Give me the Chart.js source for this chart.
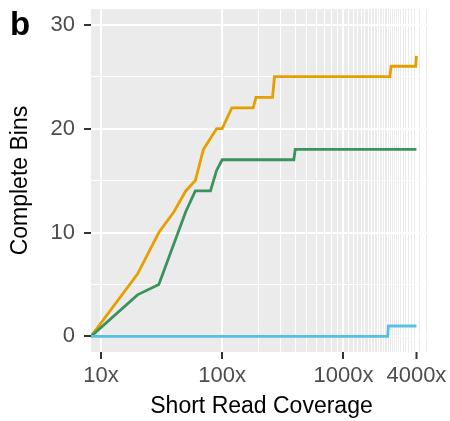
<!DOCTYPE html>
<html>
<head>
<meta charset="utf-8">
<script src="https://cdn.jsdelivr.net/npm/chart.js@4/dist/chart.umd.min.js"></script>
<style>
  html, body { margin: 0; padding: 0; background: #fff; }
  #wrap { width: 450px; height: 421px; }
</style>
</head>
<body>
<div id="wrap"><canvas id="myChart" width="450" height="421"></canvas></div>
<script>
// coverage 0 has no place on a log axis, so it sits on the left edge
const xMin = 8.27
const xMax = 5380

// orange series
const orangeX = [xMin, 20, 30, 40, 50, 60, 70, 90, 100, 120, 180, 190, 260, 270, 2420, 2470, 3950, 4000]
const orangeY = [0, 6, 10, 12, 14, 15, 18, 20, 20, 22, 22, 23, 23, 25, 25, 26, 26, 27]

// green series
const greenX = [xMin, 20, 30, 50, 60, 80, 90, 100, 390, 400, 4000]
const greenY = [0, 4, 5, 12, 14, 14, 16, 17, 17, 18, 18]

// blue series
const blueX = [xMin, 2320, 2350, 4000]
const blueY = [0, 0, 1, 1]

const xLabelTicks = [10, 100, 1000, 4000]
const xMajorTicks = [10, 100, 1000]
const yTicks = [0, 5, 10, 15, 20, 25, 30]
const yLabelTicks = [0, 10, 20, 30]

// minor vertical lines every 100 from 200 upward
let xTicks = [10, 100]
for (let v = 200; v < xMax; v += 100) xTicks.push(v)

const toPoints = (xs, ys) => xs.map((x, i) => ({x: x, y: ys[i]}))

const font = 'Liberation Sans, Arial, sans-serif'

const panelBg = {
  id: 'panelBg',
  beforeDraw(chart) {
    const {ctx, chartArea: a} = chart
    ctx.save()
    ctx.fillStyle = '#EBEBEB'
    ctx.fillRect(a.left, a.top, a.right - a.left, a.bottom - a.top)
    ctx.restore()
  },
  afterDraw(chart) {
    const ctx = chart.ctx
    ctx.save()
    ctx.fillStyle = '#000'
    ctx.font = 'bold 33px ' + font
    ctx.textBaseline = 'alphabetic'
    ctx.fillText('b', 10, 35)
    ctx.restore()
  }
}

const line = (data, color) => ({
  data: data,
  borderColor: color,
  backgroundColor: color,
  borderWidth: 2.8,
  pointRadius: 0,
  tension: 0,
  fill: false
})

new Chart(document.getElementById('myChart'), {
  type: 'line',
  data: {
    datasets: [
      line(toPoints(blueX, blueY), '#56C1E0'),
      line(toPoints(greenX, greenY), '#3B935C'),
      line(toPoints(orangeX, orangeY), '#E69F00')
    ]
  },
  plugins: [panelBg],
  options: {
    responsive: false,
    animation: false,
    layout: { padding: { top: 0, right: 18, left: 0, bottom: 0 } },
    plugins: { legend: { display: false }, tooltip: { enabled: false } },
    scales: {
      x: {
        type: 'logarithmic',
        min: xMin,
        max: xMax,
        afterBuildTicks: s => { s.ticks = xTicks.map(v => ({value: v})) },
        afterFit: s => { s.height = 69 },
        border: { display: false },
        grid: {
          color: '#FFFFFF',
          lineWidth: c => xMajorTicks.includes(c.tick.value) ? 2 : 1,
          tickColor: c => xLabelTicks.includes(c.tick.value) ? '#333333' : 'rgba(0,0,0,0)',
          tickWidth: 2,
          tickLength: 7
        },
        ticks: {
          autoSkip: false,
          maxRotation: 0,
          minRotation: 0,
          padding: 4,
          color: '#4D4D4D',
          font: { family: font, size: 22 },
          callback: v => xLabelTicks.includes(v) ? v + 'x' : ''
        },
        title: {
          display: true,
          text: 'Short Read Coverage',
          color: '#000',
          font: { family: font, size: 23 },
          padding: { top: 0, bottom: 1 }
        }
      },
      y: {
        min: -1.5,
        max: 31.5,
        afterBuildTicks: s => { s.ticks = yTicks.map(v => ({value: v})) },
        afterFit: s => { s.width = 91 },
        border: { display: false },
        grid: {
          color: '#FFFFFF',
          lineWidth: c => yLabelTicks.includes(c.tick.value) ? 2 : 1,
          tickColor: c => yLabelTicks.includes(c.tick.value) ? '#333333' : 'rgba(0,0,0,0)',
          tickWidth: 2,
          tickLength: 7
        },
        ticks: {
          padding: 9,
          color: '#4D4D4D',
          font: { family: font, size: 22, lineHeight: 0.01 },
          callback: v => yLabelTicks.includes(v) ? String(v) : ''
        },
        title: {
          display: true,
          text: 'Complete Bins',
          color: '#000',
          font: { family: font, size: 23 },
          padding: { top: 7, bottom: 0 }
        }
      }
    }
  }
})
</script>
</body>
</html>
